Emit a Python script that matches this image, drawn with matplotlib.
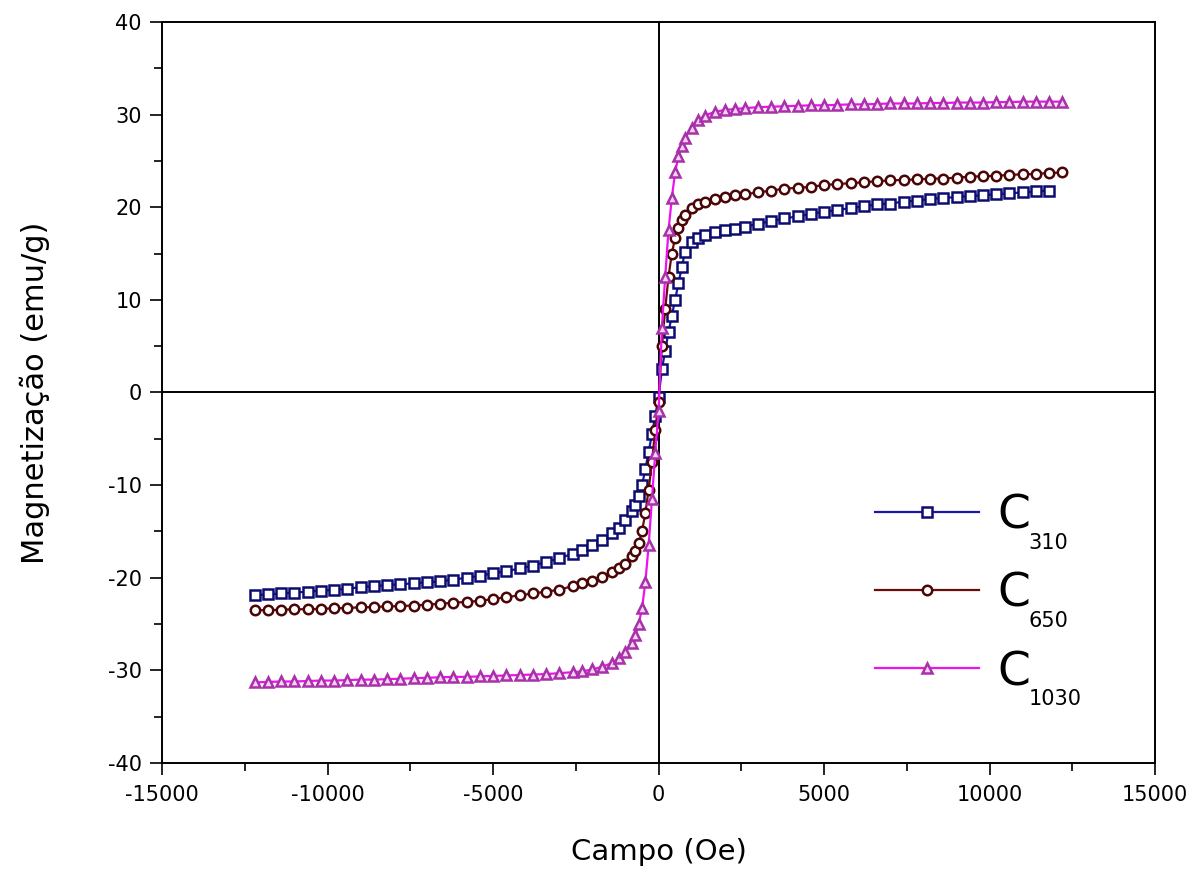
import numpy as np
import matplotlib
matplotlib.use('Agg')
import matplotlib.pyplot as plt
from matplotlib.ticker import MultipleLocator
from matplotlib.transforms import IdentityTransform

plt.rcParams['axes.unicode_minus'] = False

# field (Oe), shared by the three samples
campo = [-12200, -11800, -11400, -11000, -10600, -10200, -9800, -9400, -9000, -8600,
         -8200, -7800, -7400, -7000, -6600, -6200, -5800, -5400, -5000, -4600,
         -4200, -3800, -3400, -3000, -2600, -2300, -2000, -1700, -1400, -1200,
         -1000, -800, -700, -600, -500, -400, -300, -200, -100, 0,
         100, 200, 300, 400, 500, 600, 700, 800, 1000, 1200,
         1400, 1700, 2000, 2300, 2600, 3000, 3400, 3800, 4200, 4600,
         5000, 5400, 5800, 6200, 6600, 7000, 7400, 7800, 8200, 8600,
         9000, 9400, 9800, 10200, 10600, 11000, 11400, 11800, 12200]

# magnetization (emu/g)
m_310 = [-21.9, -21.8, -21.7, -21.6, -21.5, -21.4, -21.3, -21.2, -21.0, -20.9,
         -20.8, -20.7, -20.6, -20.5, -20.4, -20.2, -20.0, -19.8, -19.5, -19.3,
         -19.0, -18.7, -18.3, -17.9, -17.4, -17.0, -16.5, -15.9, -15.2, -14.6,
         -13.8, -12.8, -12.1, -11.2, -10.0, -8.3, -6.4, -4.5, -2.5, -0.5,
         2.5, 4.5, 6.5, 8.3, 10.0, 11.8, 13.5, 15.2, 16.2, 16.7,
         17.0, 17.3, 17.5, 17.7, 17.9, 18.2, 18.5, 18.8, 19.0, 19.3,
         19.5, 19.7, 19.9, 20.1, 20.3, 20.4, 20.6, 20.7, 20.9, 21.0,
         21.1, 21.2, 21.3, 21.4, 21.5, 21.6, 21.7, 21.8, np.nan]

m_650 = [-23.5, -23.5, -23.45, -23.4, -23.4, -23.35, -23.3, -23.25, -23.2, -23.15,
         -23.1, -23.05, -23.0, -22.9, -22.8, -22.7, -22.6, -22.5, -22.3, -22.1,
         -21.9, -21.7, -21.5, -21.3, -20.9, -20.6, -20.3, -19.9, -19.4, -19.0,
         -18.5, -17.7, -17.1, -16.3, -15.0, -13.0, -10.5, -7.5, -4.0, -1.0,
         5.0, 9.0, 12.5, 15.0, 16.7, 17.8, 18.6, 19.2, 19.9, 20.3,
         20.6, 20.9, 21.1, 21.3, 21.4, 21.6, 21.8, 22.0, 22.1, 22.2,
         22.4, 22.5, 22.6, 22.7, 22.8, 22.9, 22.95, 23.0, 23.1, 23.1,
         23.2, 23.3, 23.35, 23.4, 23.5, 23.55, 23.6, 23.7, 23.75]

m_1030 = [-31.3, -31.25, -31.2, -31.2, -31.15, -31.1, -31.1, -31.05, -31.0, -31.0,
          -30.95, -30.9, -30.85, -30.8, -30.75, -30.7, -30.7, -30.65, -30.6, -30.55,
          -30.5, -30.45, -30.4, -30.3, -30.2, -30.1, -29.9, -29.6, -29.2, -28.7,
          -28.0, -27.0, -26.2, -25.0, -23.3, -20.5, -16.5, -11.5, -6.5, -2.0,
          7.0, 12.5, 17.5, 21.0, 23.8, 25.5, 26.6, 27.5, 28.6, 29.4,
          29.9, 30.3, 30.5, 30.6, 30.7, 30.8, 30.85, 30.9, 30.95, 31.0,
          31.0, 31.05, 31.1, 31.1, 31.15, 31.2, 31.2, 31.2, 31.25, 31.25,
          31.3, 31.3, 31.3, 31.35, 31.35, 31.4, 31.4, 31.4, 31.4]

subscritos = ['310', '650', '1030']

fig = plt.figure(figsize=(12.02, 8.72), dpi=100)
ax = fig.add_axes([0.1348, 0.125, 0.8262, 0.8498])

ax.axhline(0, color='black', lw=1.4, zorder=1)
ax.axvline(0, color='black', lw=1.4, zorder=1)

ax.plot(campo, m_310, '-s', color='#1818a8', mec='#0c0c70', mfc='white',
        ms=6.8, mew=1.8, lw=1.6, label='C', zorder=3)
ax.plot(campo, m_650, '-o', color='#6a0c0c', mec='#4a0606', mfc='white',
        ms=6.8, mew=1.8, lw=1.6, label='C', zorder=4)
ax.plot(campo, m_1030, '-^', color='#f010f0', mec='#a830a8', mfc='#f8d0f8',
        ms=7.2, mew=1.8, lw=1.6, label='C', zorder=5)

ax.set_xlim(-15000, 15000)
ax.set_ylim(-40, 40)
ax.xaxis.set_major_locator(MultipleLocator(5000))
ax.xaxis.set_minor_locator(MultipleLocator(2500))
ax.yaxis.set_major_locator(MultipleLocator(10))
ax.yaxis.set_minor_locator(MultipleLocator(5))
ax.tick_params(which='major', direction='out', length=8.5, width=1.2, labelsize=15,
               top=False, right=False)
ax.tick_params(which='minor', direction='out', length=5.5, width=1.2,
               top=False, right=False)
ax.tick_params(axis='x', which='major', pad=7)
ax.tick_params(axis='y', which='major', pad=6)
for s in ax.spines.values():
    s.set_linewidth(1.4)

ax.set_xlabel('Campo (Oe)', fontsize=21, labelpad=24)
ax.set_ylabel('Magnetização (emu/g)', fontsize=22, labelpad=42)

leg = ax.legend(loc='upper left', bbox_to_anchor=(0.694, 0.395), frameon=False,
                fontsize=34, handlelength=2.2, handletextpad=0.4,
                labelspacing=0.7, numpoints=1, borderpad=0)

fig.canvas.draw()
for txt, sub in zip(leg.get_texts(), subscritos):
    bb = txt.get_window_extent()
    fig.text(bb.x1 - 2, bb.y0 + 6, sub, transform=IdentityTransform(),
             fontsize=15, va='top', ha='left')

fig.savefig('out.png', dpi=100)
